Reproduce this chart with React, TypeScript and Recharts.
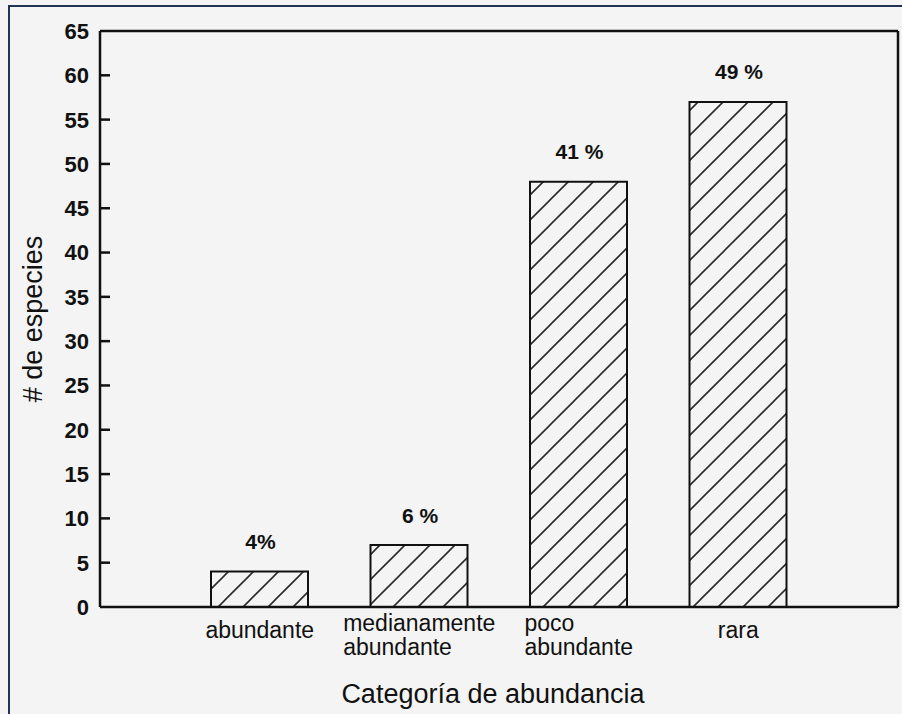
import React from 'react';
import { BarChart, Bar, XAxis, YAxis, LabelList, ReferenceLine } from 'recharts';

const categories = ['abundante', 'medianamente abundante', 'poco abundante', 'rara'];
const categoryLines = [['abundante'], ['medianamente', 'abundante'], ['poco', 'abundante'], ['rara']];
const species = [4, 7, 48, 57];
const pctLabels = ['4%', '6 %', '41 %', '49 %'];
const yTicks = [0, 5, 10, 15, 20, 25, 30, 35, 40, 45, 50, 55, 60, 65];
const innerTicks = [5, 10, 15, 20, 25, 30, 35, 40, 45, 50, 55, 60];

const data = categories.map((c, i) => ({ cat: c, value: species[i], pct: pctLabels[i] }));

const FONT = '"Liberation Sans", Arial, sans-serif';
const PLOT_LEFT = 100;
const PLOT_BOTTOM = 607;
const CAT_FONT = 23;
const TICK_LEN = 10;

let measureCtx: CanvasRenderingContext2D | null = null;
function measure(text: string, size: number): number {
  if (typeof document === 'undefined') return text.length * size * 0.5;
  if (!measureCtx) {
    const c = document.createElement('canvas');
    measureCtx = c.getContext('2d');
  }
  if (!measureCtx) return text.length * size * 0.5;
  measureCtx.font = `${size}px "Liberation Sans", Arial, sans-serif`;
  return measureCtx.measureText(text).width;
}

const YTick = (props: any) => {
  const { y, payload } = props;
  const v = payload.value;
  return (
    <text
      x={PLOT_LEFT - 11}
      y={y}
      dy="0.36em"
      textAnchor="end"
      fontFamily={FONT}
      fontSize={22}
      fontWeight="bold"
      fill="#111"
    >
      {v}
    </text>
  );
};

const XTick = (props: any) => {
  const { x, index } = props;
  const lines = categoryLines[index] || [];
  const w = Math.max(...lines.map((l) => measure(l, CAT_FONT)));
  const left = x - w / 2;
  if (lines.length === 1) {
    return (
      <text x={x} y={PLOT_BOTTOM + 23} dy="0.36em" textAnchor="middle" fontFamily={FONT} fontSize={CAT_FONT} fill="#111">
        {lines[0]}
      </text>
    );
  }
  return (
    <g>
      {lines.map((l, i) => (
        <text
          key={i}
          x={left}
          y={PLOT_BOTTOM + 16 + i * 24}
          dy="0.36em"
          textAnchor="start"
          fontFamily={FONT}
          fontSize={CAT_FONT}
          fill="#111"
        >
          {l}
        </text>
      ))}
    </g>
  );
};

const PctLabel = (props: any) => {
  const { x, y, width, value } = props;
  return (
    <text
      x={x + width / 2 + 1}
      y={y - 30}
      dy="0.36em"
      textAnchor="middle"
      fontFamily={FONT}
      fontSize={21}
      fontWeight="bold"
      fill="#111"
    >
      {value}
    </text>
  );
};

const TickMark = (p: any) => {
  const x1 = Math.min(p.x1, p.x2);
  return <line x1={x1} x2={x1 + TICK_LEN} y1={p.y1} y2={p.y1} stroke="#111" strokeWidth={2.5} />;
};

export default function App() {
  return (
    <div style={{ position: 'absolute', left: 0, top: 0, width: 902, height: 714, background: '#f4f4f4', overflow: 'hidden' }}>
      <div
        style={{
          position: 'absolute',
          left: 8,
          top: 5,
          right: -10,
          bottom: -10,
          borderTop: '2px solid #1f3553',
          borderLeft: '2px solid #1f3553',
        }}
      />
      <div style={{ position: 'absolute', left: 0, top: 0 }}>
        <BarChart width={902} height={714} data={data} margin={{ top: 30, right: 3, bottom: 27, left: 10 }}>
          <defs>
            <pattern id="hatch" patternUnits="userSpaceOnUse" width="25" height="25">
              <rect x="0" y="0" width="25" height="25" fill="#f4f4f4" />
              <path
                d="M-1,26 L26,-1 M-6.25,6.25 L6.25,-6.25 M18.75,31.25 L31.25,18.75"
                stroke="#2a2a2a"
                strokeWidth={1.6}
              />
            </pattern>
          </defs>
          <XAxis
            dataKey="cat"
            type="category"
            padding={{ left: 80, right: 80 }}
            height={80}
            axisLine={{ stroke: '#111', strokeWidth: 2.5 }}
            tickLine={false}
            tick={<XTick />}
            interval={0}
            label={{
              content: () => (
                <text x={493} y={693} dy="0.36em" textAnchor="middle" fontFamily={FONT} fontSize={27} fill="#111">
                  Categoría de abundancia
                </text>
              ),
            }}
          />
          <XAxis
            xAxisId="top"
            dataKey="cat"
            orientation="top"
            height={1}
            tick={false}
            tickLine={false}
            axisLine={{ stroke: '#111', strokeWidth: 2.5 }}
          />
          <YAxis
            domain={[0, 65]}
            ticks={yTicks}
            interval={0}
            width={90}
            axisLine={{ stroke: '#111', strokeWidth: 2.5 }}
            tickLine={false}
            tick={<YTick />}
            label={{
              content: () => (
                <text
                  x={32}
                  y={319}
                  dy="0.36em"
                  textAnchor="middle"
                  fontFamily={FONT}
                  fontSize={27}
                  fill="#111"
                  transform="rotate(-90 32 319)"
                >
                  # de especies
                </text>
              ),
            }}
          />
          <YAxis
            yAxisId="right"
            orientation="right"
            domain={[0, 65]}
            width={1}
            tick={false}
            tickLine={false}
            axisLine={{ stroke: '#111', strokeWidth: 2.5 }}
          />
          {innerTicks.map((t) => (
            <ReferenceLine key={t} y={t} shape={<TickMark />} ifOverflow="visible" />
          ))}
          <Bar
            dataKey="value"
            barSize={97}
            fill="url(#hatch)"
            stroke="#111"
            strokeWidth={2}
            isAnimationActive={false}
          >
            <LabelList dataKey="pct" content={<PctLabel />} />
          </Bar>
        </BarChart>
      </div>
    </div>
  );
}
